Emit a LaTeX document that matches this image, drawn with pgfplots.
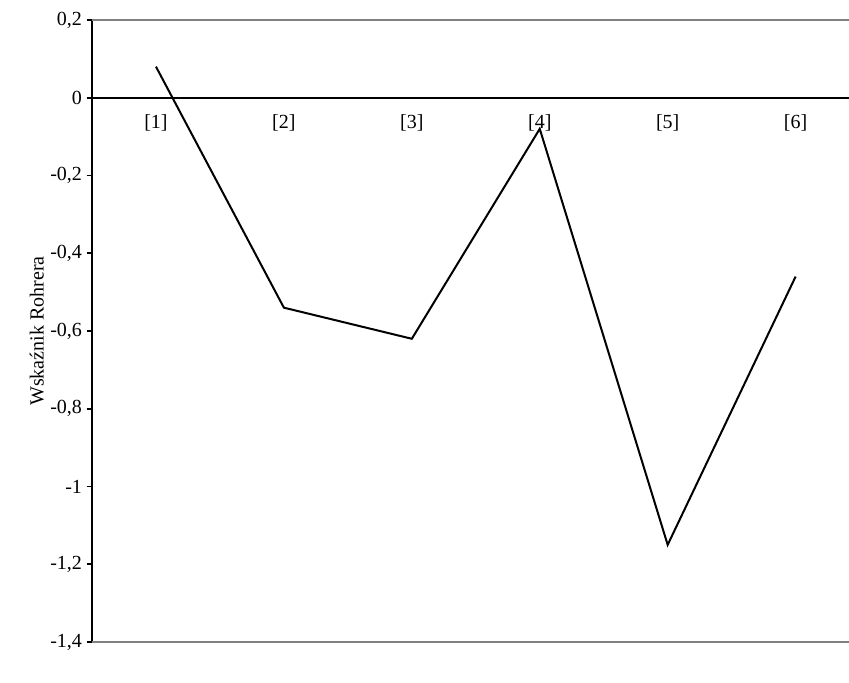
\documentclass[border=0pt]{standalone}
\usepackage{pgfplots}
\pgfplotsset{compat=1.18}
\usepackage{fontspec}
\setmainfont{Liberation Serif}
\begin{document}
\begin{tikzpicture}
\useasboundingbox (0,0) rectangle (636.75pt,511.5pt);
\begin{axis}[at={(69pt,30pt)}, anchor=south west, scale only axis,
  width=568pt, height=466.5pt,
  xmin=0.5, xmax=6.42, ymin=-1.4, ymax=0.2,
  axis x line=middle, axis y line=left,
  axis line style={black, line width=1.3pt, -},
  xtick={1,...,6}, xticklabels={[1],[2],[3],[4],[5],[6]},
  xtick style={draw=none},
  xticklabel style={yshift=-5pt},
  ytick={-1.4,-1.2,...,0.2},
  ytick style={black, line width=1.3pt},
  tick align=outside, major tick length=4pt,
  yticklabel style={/pgf/number format/.cd, use comma, fixed, precision=1},
  /pgf/number format/assume math mode=true,
  tick label style={font=\fontsize{15}{17}\selectfont},
  ylabel={Wskaźnik Rohrera}, ylabel style={font=\fontsize{15}{17}\selectfont, yshift=-2pt},
  clip=false]
\draw[gray, line width=1.3pt] (axis cs:0.5,0.2) -- (axis cs:6.42,0.2);
\draw[gray, line width=1.3pt] (axis cs:0.5,-1.4) -- (axis cs:6.42,-1.4);
\addplot[black, line width=1.5pt, mark=none] coordinates {(1,0.08) (2,-0.54) (3,-0.62) (4,-0.08) (5,-1.15) (6,-0.46)};
\end{axis}
\end{tikzpicture}
\end{document}
